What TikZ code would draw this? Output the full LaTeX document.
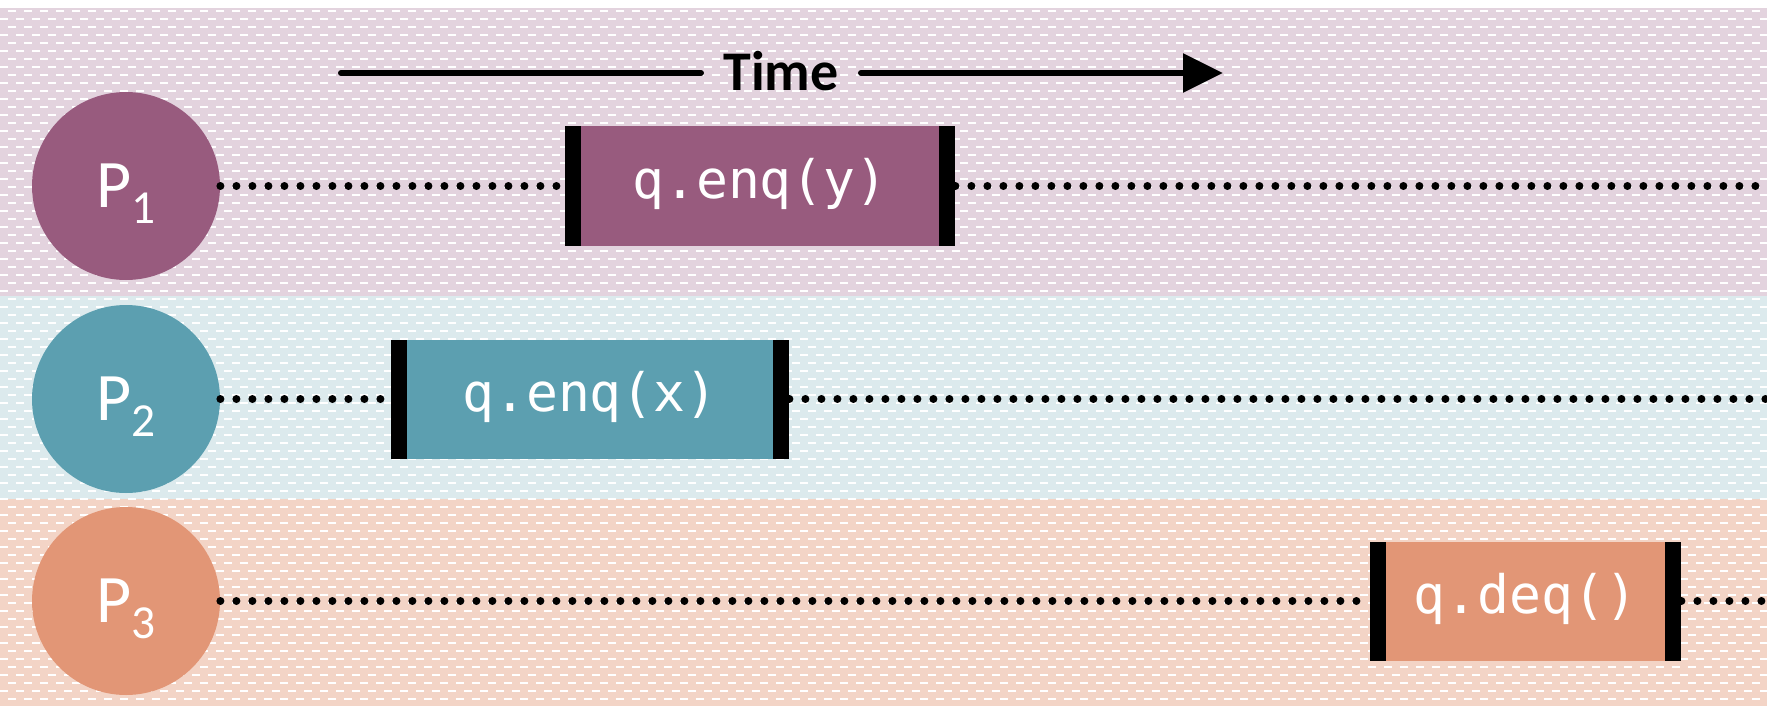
\documentclass[tikz,border=0pt]{standalone}
\usepackage{fontspec}
\setmainfont{Carlito}
\newfontfamily\codefont{DejaVu Sans Mono}
\usetikzlibrary{arrows.meta}

\definecolor{procA}{HTML}{985B7E}
\definecolor{laneA}{HTML}{E3D3DE}
\definecolor{procB}{HTML}{5C9FB0}
\definecolor{laneB}{HTML}{DCEAED}
\definecolor{procC}{HTML}{E29676}
\definecolor{laneC}{HTML}{F3D4C6}

% lowered subscript that does not change the node height
\newcommand{\procsub}[1]{\smash{\raisebox{-8pt}{\fontsize{23.7}{24}\selectfont #1}}}

\begin{document}
\begin{tikzpicture}[x=0.5pt, y=-0.5pt,
    proc/.style={circle, fill=#1, minimum size=94pt, inner sep=0pt,
      text=white, font=\fontsize{34}{34}\selectfont},
    op/.style={rectangle, fill=#1, minimum height=59.5pt, inner sep=0pt,
      text height=17pt, text depth=4.5pt,
      text=white, font=\codefont\fontsize{26.5}{27}\selectfont,
      path picture={
        \fill[black] (path picture bounding box.north west)
          rectangle ([xshift=8pt]path picture bounding box.south west);
        \fill[black] (path picture bounding box.north east)
          rectangle ([xshift=-8pt]path picture bounding box.south east);
      }},
    dots/.style={line width=4pt, line cap=round, dash pattern=on 0pt off 8pt},
    timeline/.style={line width=3pt, line cap=round},
    ]
  \useasboundingbox (0,0) rectangle (1767,706);

  % lanes
  \fill[laneA] (0,8) rectangle (1767,296);
  \fill[laneB] (0,296) rectangle (1767,499);
  \fill[laneC] (0,499) rectangle (1767,706);
  \foreach \y in {11,27,...,699}
    \draw[white, line width=1pt, dash pattern=on 4pt off 4pt, dash phase=4pt] (0,\y) -- (1767,\y);
  \foreach \y in {19,35,...,691}
    \draw[white, line width=1pt, dash pattern=on 4pt off 4pt] (0,\y) -- (1767,\y);

  % time axis
  \node[font=\bfseries\fontsize{28}{28}\selectfont, inner xsep=11pt] (time) at (781,71) {Time};
  \coordinate (tstart) at (341,73);
  \coordinate (tend) at (1223,73);
  \draw[timeline] (tstart) -- (time.west |- tstart);
  \draw[timeline, -{Triangle[length=20pt, width=19pt]}] (time.east |- tend) -- (tend);

  % processes
  \node[proc=procA] (p1) at (126,186) {P\procsub{1}};
  \node[proc=procB] (p2) at (126,399) {P\procsub{2}};
  \node[proc=procC] (p3) at (126,601) {P\procsub{3}};

  \node[op=procA, minimum width=195pt] (op1) at (760,186) {q.enq(y)};
  \node[op=procB, minimum width=199pt] (op2) at (590,399) {q.enq(x)};
  \node[op=procC, minimum width=155.5pt] (op3) at (1525.5,601) {q.deq()};

  \coordinate (end1) at (1767,186);
  \coordinate (end2) at (1767,399);
  \coordinate (end3) at (1767,601);

  \draw[dots] (p1.east) -- (op1.west);
  \draw[dots] (op1.east) -- (end1);
  \draw[dots] (p2.east) -- (op2.west);
  \draw[dots] (op2.east) -- (end2);
  \draw[dots] (p3.east) -- (op3.west);
  \draw[dots] (op3.east) -- (end3);
\end{tikzpicture}
\end{document}
